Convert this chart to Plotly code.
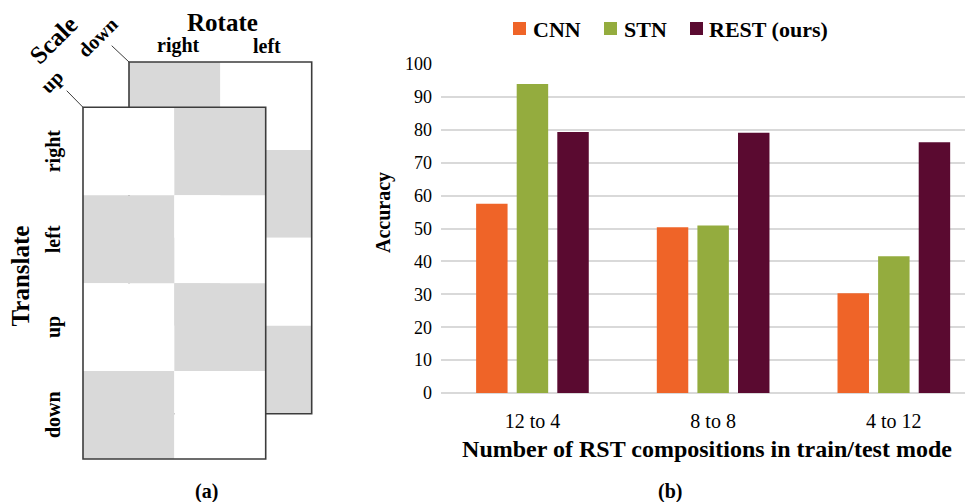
import plotly.graph_objects as go

# ---------------- data ----------------
categories = ["12 to 4", "8 to 8", "4 to 12"]
series_names = ["CNN", "STN", "REST (ours)"]
cnn_values = [57.5, 50.4, 30.3]
stn_values = [93.9, 50.9, 41.6]
rest_values = [79.3, 79.1, 76.2]
y_ticks = [0, 10, 20, 30, 40, 50, 60, 70, 80, 90, 100]

# diagram labels / checkerboard pattern (1 = gray)
translate_labels = ["right", "left", "up", "down"]
rotate_labels = ["right", "left"]
scale_labels = ["up", "down"]
front_pattern = [[0, 1], [1, 0], [0, 1], [1, 0]]
back_pattern = [[1, 0], [0, 1], [1, 0], [0, 1]]

# ---------------- style ----------------
VW, VH = 973, 502          # browser window
BM = 8                     # default page body margin
W, H = VW - BM, VH - BM    # figure size so that it fits the window
FONT = "Liberation Serif"
colors = ["#EF6428", "#94AC3E", "#5A0A30"]
GRAY = "#D9D9D9"
EDGE = "#3C3C3C"


def fx(px):
    return (px - BM) / W


def fy(py):
    return 1 - (py - BM) / H


fig = go.Figure()
for name, vals, col in zip(series_names, [cnn_values, stn_values, rest_values], colors):
    fig.add_trace(go.Bar(x=categories, y=vals, name=name, marker_color=col,
                         marker_line_width=0, showlegend=False))

shapes = []
annotations = []

# ---- manual legend ----
leg_items = [(513, 531), (604, 622), (690, 707)]
for (sx, tx), name, col in zip(leg_items, series_names, colors):
    shapes.append(dict(type="rect", xref="paper", yref="paper",
                       x0=fx(sx), x1=fx(sx + 13), y0=fy(35), y1=fy(22),
                       fillcolor=col, line_width=0))
    annotations.append(dict(text="<b>%s</b>" % name, xref="paper", yref="paper",
                            x=fx(tx), y=fy(29), xanchor="left", yanchor="middle",
                            showarrow=False, font=dict(family=FONT, size=22, color="black")))

# y-axis title
annotations.append(dict(text="<b>Accuracy</b>", xref="paper", yref="paper",
                        x=fx(383), y=fy(213), textangle=-90, xanchor="center", yanchor="middle",
                        showarrow=False, font=dict(family=FONT, size=20, color="black")))
# sub captions
annotations.append(dict(text="<b>(b)</b>", xref="paper", yref="paper", x=fx(670), y=fy(491),
                        xanchor="center", yanchor="middle", showarrow=False,
                        font=dict(family=FONT, size=20, color="black")))
annotations.append(dict(text="<b>(a)</b>", xref="paper", yref="paper", x=fx(206), y=fy(491),
                        xanchor="center", yanchor="middle", showarrow=False,
                        font=dict(family=FONT, size=20, color="black")))

# ---- diagram (a) ----
FX0, FX1, FY0, FY1 = 83, 265.7, 107.3, 459
DX, DY = 46, -45.3
cw = (FX1 - FX0) / 2
ch = (FY1 - FY0) / 4


def grid(pattern, ox, oy):
    out = []
    for r, row in enumerate(pattern):
        for c, v in enumerate(row):
            x0 = FX0 + ox + c * cw
            y0 = FY0 + oy + r * ch
            out.append(dict(type="rect", xref="paper", yref="paper",
                            x0=fx(x0), x1=fx(x0 + cw), y0=fy(y0 + ch), y1=fy(y0),
                            fillcolor=GRAY if v else "white", line_width=0))
    out.append(dict(type="rect", xref="paper", yref="paper",
                    x0=fx(FX0 + ox), x1=fx(FX1 + ox), y0=fy(FY1 + oy), y1=fy(FY0 + oy),
                    fillcolor="rgba(0,0,0,0)", line=dict(color=EDGE, width=1.6)))
    return out


shapes += grid(back_pattern, DX, DY)
shapes += grid(front_pattern, 0, 0)
# leader lines
shapes.append(dict(type="line", xref="paper", yref="paper", x0=fx(111.7), y0=fy(45.7),
                   x1=fx(FX0 + DX), y1=fy(FY0 + DY), line=dict(color=EDGE, width=1)))
shapes.append(dict(type="line", xref="paper", yref="paper", x0=fx(66.7), y0=fy(90.7),
                   x1=fx(FX0), y1=fy(FY0), line=dict(color=EDGE, width=1)))


def lab(text, x, y, size, angle=0, yanchor="middle"):
    annotations.append(dict(text="<b>%s</b>" % text, xref="paper", yref="paper",
                            x=fx(x), y=min(fy(y), 1), xanchor="center", yanchor=yanchor,
                            textangle=angle, showarrow=False, borderpad=0,
                            font=dict(family=FONT, size=size, color="black")))


lab("Rotate", 222, BM, 25, yanchor="top")
lab(rotate_labels[0], 178, 46, 20)
lab(rotate_labels[1], 266.7, 46, 20)
lab("Scale", 54, 40, 25, -45)
lab(scale_labels[1], 97.7, 36.7, 20, -45)
lab(scale_labels[0], 52.3, 81.7, 20, -45)
lab("Translate", 20, 276.5, 25, -90)
for i, t in enumerate(translate_labels):
    lab(t, 53, FY0 + ch * (i + 0.5), 20, -90)

fig.update_layout(
    width=W, height=H, autosize=False,
    margin=dict(l=0, r=0, t=0, b=0, pad=0, autoexpand=False),
    paper_bgcolor="white", plot_bgcolor="white",
    barmode="group", bargap=0.326, bargroupgap=0.225,
    font=dict(family=FONT, color="black"),
    shapes=shapes, annotations=annotations,
    xaxis=dict(domain=[fx(441), 1], type="category", range=[-0.506, 2.483 - BM / 178],
               automargin=False,
               showgrid=False, showline=False, ticks="",
               tickfont=dict(family=FONT, size=20, color="black"),
               ticklabelstandoff=14,
               title=dict(text="<b>Number of RST compositions in train/test mode</b>",
                          font=dict(family=FONT, size=24, color="black"), standoff=9)),
    yaxis=dict(domain=[fy(393), fy(64)], range=[0, 100], tickvals=y_ticks,
               automargin=False,
               showgrid=True, gridcolor=GRAY, gridwidth=1.5,
               zeroline=True, zerolinecolor=GRAY, zerolinewidth=1.5,
               showline=False, ticks="", ticklabelstandoff=8,
               tickfont=dict(family=FONT, size=18, color="black")),
)

fig.write_html("out.html")
